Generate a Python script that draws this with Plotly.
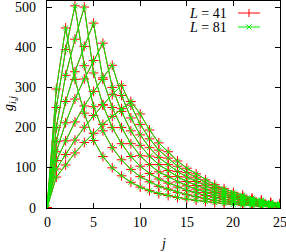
import plotly.graph_objects as go

# ---------------- data ----------------
j = list(range(26))

# g_{i,j} versus j, one list per curve i (L = 41)
g41_i2 = [0, 296, 448, 320, 236, 168, 128, 100, 80, 64, 52, 43, 36, 31, 26, 22, 19, 16, 13, 11, 9, 7, 6, 4, 3, 2]
g41_i3 = [0, 250, 394, 503, 354, 252, 192, 150, 120, 96, 78, 65, 54, 47, 39, 33, 28, 23, 19, 16, 13, 10, 8, 7, 5, 4]
g41_i4 = [0, 200, 330, 420, 500, 336, 256, 200, 160, 128, 104, 86, 72, 62, 52, 44, 38, 31, 26, 21, 17, 14, 11, 9, 6, 5]
g41_i5 = [0, 165, 265, 339, 402, 460, 320, 250, 200, 160, 130, 108, 90, 78, 65, 55, 47, 39, 32, 27, 22, 18, 14, 11, 8, 6]
g41_i6 = [0, 140, 212, 271, 321, 367, 410, 300, 240, 192, 156, 129, 108, 93, 78, 66, 56, 47, 38, 32, 26, 21, 17, 13, 10, 7]
g41_i7 = [0, 118, 167, 214, 254, 290, 324, 355, 280, 224, 182, 150, 126, 108, 91, 77, 66, 55, 45, 37, 30, 25, 20, 15, 11, 8]
g41_i8 = [0, 97, 133, 169, 201, 230, 257, 282, 305, 256, 208, 172, 144, 124, 104, 88, 75, 62, 51, 42, 34, 28, 22, 18, 13, 10]
g41_i9 = [0, 77, 107, 137, 163, 186, 208, 228, 247, 265, 234, 194, 162, 140, 117, 99, 85, 70, 58, 48, 39, 32, 25, 20, 14, 11]

# L = 81 coincides with L = 41 within the drawing resolution
g81_i2 = list(g41_i2)
g81_i3 = list(g41_i3)
g81_i4 = list(g41_i4)
g81_i5 = list(g41_i5)
g81_i6 = list(g41_i6)
g81_i7 = list(g41_i7)
g81_i8 = list(g41_i8)
g81_i9 = list(g41_i9)

series_L41 = [g41_i2, g41_i3, g41_i4, g41_i5, g41_i6, g41_i7, g41_i8, g41_i9]
series_L81 = [g81_i2, g81_i3, g81_i4, g81_i5, g81_i6, g81_i7, g81_i8, g81_i9]

x_ticks = [0, 5, 10, 15, 20, 25]
y_ticks = [0, 100, 200, 300, 400, 500]
legend_labels = ["<i>L</i> = 41", "<i>L</i> = 81"]

RED = "#ff0000"
GREEN = "#00ee00"
FONT = "Liberation Serif"

fig = go.Figure()
for ys in series_L41:
    fig.add_trace(go.Scatter(
        x=j, y=ys, mode="lines+markers", showlegend=False,
        line=dict(color=RED, width=1),
        marker=dict(symbol="cross-thin", size=7, line=dict(color=RED, width=1), color=RED),
        hoverinfo="skip"))
for ys in series_L81:
    fig.add_trace(go.Scatter(
        x=j, y=ys, mode="lines+markers", showlegend=False,
        line=dict(color=GREEN, width=1),
        marker=dict(symbol="x-thin", size=5, line=dict(color=GREEN, width=1), color=GREEN),
        hoverinfo="skip"))

# plot area geometry in pixels
W, H = 286, 252
L_, R_, T_, B_ = 47, 6, 1, 44
pw = W - L_ - R_
ph = H - T_ - B_

def px(xp):
    return (xp - L_) / pw

def py(yp):
    return (H - B_ - yp) / ph

axis_common = dict(showline=True, linecolor="black", linewidth=1, mirror="ticks",
                   ticks="inside", ticklen=5, tickcolor="black", showgrid=False,
                   zeroline=False, tickfont=dict(family=FONT, size=14, color="black"))

fig.update_layout(
    width=W, height=H,
    margin=dict(l=L_, r=R_, t=T_, b=B_, autoexpand=False),
    paper_bgcolor="white", plot_bgcolor="white",
    xaxis=dict(range=[0, 25], tickvals=x_ticks, showticklabels=False, **axis_common),
    yaxis=dict(range=[0, 515], tickvals=y_ticks, showticklabels=False, **axis_common),
)

annotations = []
# tick labels placed as text beside each tick
for v in x_ticks:
    annotations.append(dict(text=str(v), x=v, xref="x", y=py(222), yref="paper",
                            xanchor="center", yanchor="middle", showarrow=False,
                            font=dict(family=FONT, size=14, color="black")))
for v in y_ticks:
    annotations.append(dict(text=str(v), x=px(38), xref="paper", y=v, yref="y",
                            xanchor="right", yanchor="middle", showarrow=False,
                            font=dict(family=FONT, size=14, color="black")))
annotations += [
    dict(text="<i>j</i>", x=px(163), y=py(243), xref="paper", yref="paper",
         xanchor="center", yanchor="middle",
         showarrow=False, font=dict(family=FONT, size=14, color="black")),
    dict(text="<i>g</i><sub><i>i,j</i></sub>", x=px(9), y=py(104), xref="paper", yref="paper",
         xanchor="center", yanchor="middle",
         showarrow=False, textangle=-90, font=dict(family=FONT, size=14, color="black")),
]
shapes = []
leg_rows = [(13, RED, "plus"), (27, GREEN, "x")]
for (yy, col, kind), lab in zip(leg_rows, legend_labels):
    annotations.append(dict(text=lab, x=px(229), y=py(yy), xref="paper", yref="paper",
                            xanchor="right", yanchor="middle", showarrow=False,
                            font=dict(family=FONT, size=14, color="black")))
    shapes.append(dict(type="line", xref="paper", yref="paper",
                       x0=px(238), x1=px(260), y0=py(yy), y1=py(yy),
                       line=dict(color=col, width=1)))
    if kind == "plus":
        shapes.append(dict(type="line", xref="paper", yref="paper",
                           x0=px(249), x1=px(249), y0=py(yy - 4), y1=py(yy + 4),
                           line=dict(color=col, width=1)))
    else:
        shapes.append(dict(type="line", xref="paper", yref="paper",
                           x0=px(246.5), x1=px(251.5), y0=py(yy - 2.5), y1=py(yy + 2.5),
                           line=dict(color=col, width=1)))
        shapes.append(dict(type="line", xref="paper", yref="paper",
                           x0=px(246.5), x1=px(251.5), y0=py(yy + 2.5), y1=py(yy - 2.5),
                           line=dict(color=col, width=1)))

fig.update_layout(annotations=annotations, shapes=shapes)
fig.write_html("out.html",
               config={"displayModeBar": False, "staticPlot": True},
               post_script="document.body.style.margin='0';document.body.style.padding='0';")
